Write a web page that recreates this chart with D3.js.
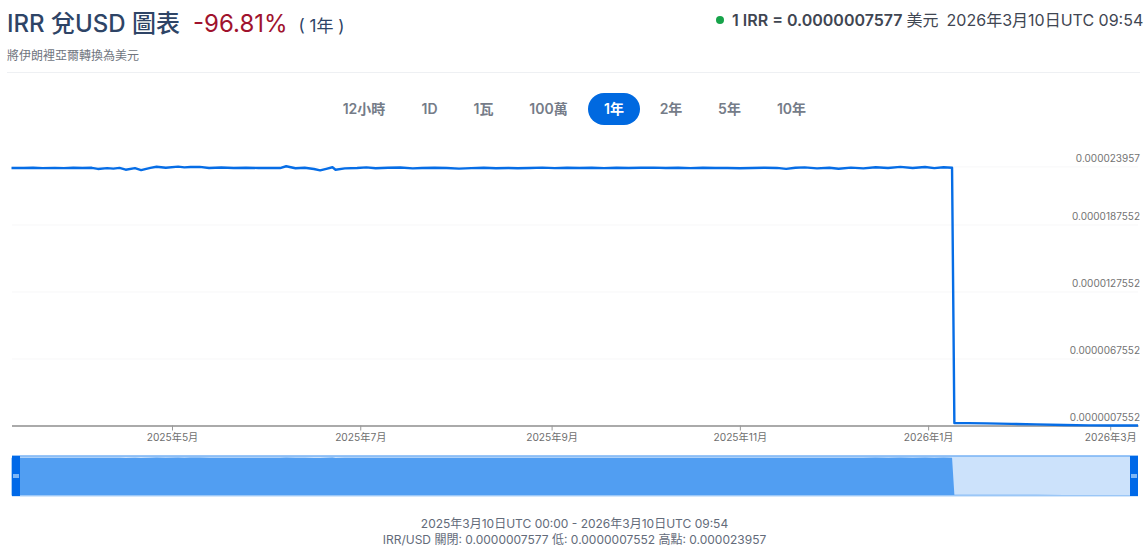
<!DOCTYPE html>
<html lang="zh-Hant">
<head>
<meta charset="utf-8">
<script src="https://cdn.jsdelivr.net/npm/d3@7"></script>
<style>
  html, body { margin: 0; padding: 0; background: #fff; overflow: hidden; }
  svg { display: block; }
  text { font-family: Inter, "Noto Sans CJK TC", sans-serif; }
</style>
</head>
<body>
<div id="chart"></div>
<script>
// Rate readings
const rateDates = [
  "2025-03-10","2025-03-14","2025-03-17","2025-03-20","2025-03-24","2025-03-27","2025-03-30","2025-04-02","2025-04-05","2025-04-07",
  "2025-04-10","2025-04-12","2025-04-14","2025-04-16","2025-04-19","2025-04-21","2025-04-24","2025-04-26","2025-04-29","2025-05-03",
  "2025-05-05","2025-05-07","2025-05-10","2025-05-13","2025-05-17","2025-05-21","2025-05-25","2025-05-29","2025-06-02","2025-06-05",
  "2025-06-07","2025-06-10","2025-06-13","2025-06-16","2025-06-18","2025-06-20","2025-06-22","2025-06-23","2025-06-26","2025-06-30",
  "2025-07-03","2025-07-06","2025-07-10","2025-07-14","2025-07-18","2025-07-21","2025-07-25","2025-07-29","2025-08-02","2025-08-06",
  "2025-08-10","2025-08-14","2025-08-18","2025-08-21","2025-08-25","2025-08-29","2025-09-02","2025-09-06","2025-09-10","2025-09-14",
  "2025-09-18","2025-09-22","2025-09-26","2025-09-30","2025-10-04","2025-10-08","2025-10-12","2025-10-16","2025-10-20","2025-10-24",
  "2025-10-28","2025-11-01","2025-11-05","2025-11-09","2025-11-13","2025-11-16","2025-11-19","2025-11-22","2025-11-26","2025-11-30",
  "2025-12-03","2025-12-07","2025-12-11","2025-12-15","2025-12-19","2025-12-23","2025-12-27","2025-12-31","2026-01-03","2026-01-06",
  "2026-01-08T18:00:00Z","2026-01-09T12:00:00Z","2026-01-14","2026-01-20","2026-01-28","2026-02-05","2026-02-14","2026-02-22","2026-03-01","2026-03-05","2026-03-10"
];
const rateValues = [
  23.81,23.81,23.83,23.80,23.82,23.80,23.83,23.81,23.83,23.73,
  23.80,23.76,23.82,23.66,23.80,23.63,23.83,23.93,23.84,23.94,
  23.87,23.90,23.91,23.81,23.86,23.81,23.84,23.81,23.81,23.81,
  23.97,23.79,23.84,23.72,23.60,23.74,23.88,23.66,23.78,23.81,
  23.87,23.79,23.83,23.86,23.78,23.82,23.84,23.81,23.76,23.80,
  23.84,23.79,23.82,23.79,23.82,23.85,23.80,23.84,23.81,23.83,
  23.80,23.84,23.81,23.83,23.85,23.81,23.83,23.80,23.84,23.82,
  23.81,23.79,23.81,23.84,23.82,23.74,23.84,23.87,23.78,23.84,
  23.75,23.85,23.78,23.88,23.81,23.91,23.81,23.90,23.80,23.88,
  23.83,0.98,0.97,0.95,0.90,0.86,0.80,0.77,0.76,0.76,0.7577
];

const yTickValues = [0.7552, 6.7552, 12.7552, 18.7552, 23.957];
const yTickLabels = ["0.0000007552", "0.0000067552", "0.0000127552", "0.0000187552", "0.000023957"];
const xTickDates = ["2025-05-01", "2025-07-01", "2025-09-01", "2025-11-01", "2026-01-01", "2026-03-01"];
const xTickLabels = ["2025年5月", "2025年7月", "2025年9月", "2025年11月", "2026年1月", "2026年3月"];
const rangeButtons = ["12小時", "1D", "1瓦", "100萬", "1年", "2年", "5年", "10年"];
const buttonCenters = [364, 429.5, 483.5, 548.5, 614, 671, 729.5, 791.5];

const WIDTH = 1147;
const HEIGHT = 550;

const rows = rateDates.map((d, i) => ({ date: d3.isoParse(d), value: rateValues[i] }));

const svg = d3.select("#chart").append("svg")
  .attr("width", WIDTH)
  .attr("height", HEIGHT)
  .attr("viewBox", `0 0 ${WIDTH} ${HEIGHT}`);

// Scales
const x = d3.scaleUtc()
  .domain([d3.isoParse("2025-03-10"), d3.isoParse("2026-03-10")])
  .range([11.5, 1138]);
const y = d3.scaleLinear()
  .domain([0.7552, 23.957])
  .range([425.5, 166.4]);
const navY = d3.scaleLinear()
  .domain([0.7552, 23.957])
  .range([495, 457.5]);

// Header
const title = svg.append("text").attr("x", 7).attr("y", 32).attr("font-size", 24);
title.append("tspan").attr("fill", "#2e4466").attr("font-weight", 500).text("IRR 兌USD 圖表");
title.append("tspan").attr("dx", 13).attr("fill", "#a0122d").attr("font-weight", 400).text("-96.81%");
title.append("tspan").attr("dx", 11).attr("fill", "#2e4466").attr("font-size", 17).text("( 1年 )");

svg.append("text").attr("x", 7).attr("y", 60)
  .attr("font-size", 12).attr("fill", "#70757e").text("將伊朗裡亞爾轉換為美元");

svg.append("circle").attr("cx", 720).attr("cy", 20).attr("r", 4).attr("fill", "#16a34a");
const quote = svg.append("text").attr("x", 732).attr("y", 26).attr("font-size", 16).attr("fill", "#3f4652");
quote.append("tspan").attr("font-weight", 600).text("1 IRR = 0.0000007577");
quote.append("tspan").attr("dx", 4).text("美元");
quote.append("tspan").attr("dx", 8).text("2026年3月10日UTC 09:54");

svg.append("line").attr("x1", 7).attr("x2", 1140).attr("y1", 72.5).attr("y2", 72.5).attr("stroke", "#eef0f3");

// Range buttons
svg.append("rect").attr("x", 588).attr("y", 93).attr("width", 52).attr("height", 32).attr("rx", 16)
  .attr("fill", "#0069e0");
svg.append("g").selectAll("text").data(rangeButtons).join("text")
  .attr("x", (d, i) => buttonCenters[i])
  .attr("y", 114)
  .attr("text-anchor", "middle")
  .attr("font-size", 14)
  .attr("font-weight", 600)
  .attr("fill", (d) => (d === "1年" ? "#fff" : "#757c88"))
  .text((d) => d);

// Y axis, grid lines with the labels sitting above them
const yAxis = d3.axisRight(y)
  .tickValues(yTickValues)
  .tickSize(1126)
  .tickFormat((d, i) => yTickLabels[i]);
const yG = svg.append("g").attr("transform", "translate(12,0)").call(yAxis);
yG.select(".domain").remove();
yG.selectAll(".tick line").attr("stroke", "#f7f7f8");
yG.selectAll(".tick text")
  .attr("x", 1128)
  .attr("dy", -5)
  .attr("text-anchor", "end")
  .attr("font-size", 10)
  .attr("fill", "#737373")
  .style("font-family", 'Inter, "Noto Sans CJK TC", sans-serif');

// X axis
const xAxis = d3.axisBottom(x)
  .tickValues(xTickDates.map(d3.isoParse))
  .tickSize(5)
  .tickSizeOuter(0)
  .tickFormat((d, i) => xTickLabels[i]);
const xG = svg.append("g").attr("transform", "translate(0,425.5)").call(xAxis);
xG.select(".domain").attr("stroke", "#aaa").attr("stroke-width", 2);
xG.selectAll(".tick line").attr("stroke", "#999");
xG.selectAll(".tick text")
  .attr("y", 8)
  .attr("font-size", 10.2)
  .attr("fill", "#6e6e6e")
  .style("font-family", 'Inter, "Noto Sans CJK TC", sans-serif');

// Main line
const line = d3.line().x((d) => x(d.date)).y((d) => y(d.value));
svg.append("path").datum(rows)
  .attr("d", line)
  .attr("fill", "none")
  .attr("stroke", "#066de6")
  .attr("stroke-width", 2.4)
  .attr("stroke-linejoin", "round");

// Navigator
svg.append("rect").attr("x", 12).attr("y", 456).attr("width", 1126).attr("height", 40).attr("fill", "#cce2fb");
const navArea = d3.area().x((d) => x(d.date)).y0(495.5).y1((d) => navY(d.value));
svg.append("path").datum(rows).attr("d", navArea).attr("fill", "#519ef2");
svg.append("line").attr("x1", 12).attr("x2", 1138).attr("y1", 456).attr("y2", 456).attr("stroke", "#77b2f5").attr("stroke-width", 1.5);
svg.append("line").attr("x1", 12).attr("x2", 1138).attr("y1", 496).attr("y2", 496).attr("stroke", "#a9cff8").attr("stroke-width", 1);

const handles = [[12, 15], [1130, 1133]];
handles.forEach(([hx, gx]) => {
  svg.append("rect").attr("x", hx).attr("y", 456).attr("width", 8).attr("height", 40).attr("fill", "#0069e8");
  svg.append("rect").attr("x", gx - 2).attr("y", 474).attr("width", 6).attr("height", 4).attr("fill", "#7db6f6");
});

// Footer
svg.append("text").attr("x", 574.5).attr("y", 528).attr("text-anchor", "middle")
  .attr("font-size", 12).attr("fill", "#636b7a")
  .text("2025年3月10日UTC 00:00 - 2026年3月10日UTC 09:54");
const foot = svg.append("text").attr("x", 574.5).attr("y", 544).attr("text-anchor", "middle")
  .attr("font-size", 12).attr("fill", "#636b7a");
foot.append("tspan").text("IRR/USD 關閉: ");
foot.append("tspan").text("0.0000007577");
foot.append("tspan").text(" 低: ");
foot.append("tspan").text("0.0000007552");
foot.append("tspan").text(" 高點: ");
foot.append("tspan").text("0.000023957");
</script>
</body>
</html>
